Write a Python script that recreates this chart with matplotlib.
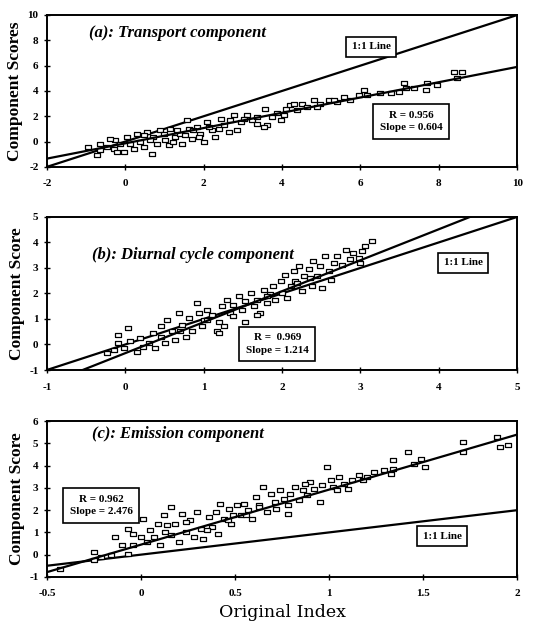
import numpy as np
import matplotlib.pyplot as plt

plt.rcParams['font.family'] = ['Liberation Serif', 'DejaVu Serif']

# (a) transport component
xa = [-0.94, -0.72, -0.64, -0.47, -0.30, -0.26, -0.21, -0.04, 0.04, 0.13, 0.21, 0.30, 0.38, 0.47,
      0.55, 0.68, 0.72, 0.81, 0.89, 1.02, 1.11, 1.15, 1.28, 1.40, 1.45, 1.57, 1.62, 1.70, 1.83, 1.91,
      2.00, 2.09, 2.21, 2.30, 2.43, 2.51, 2.64, 2.77, 2.85, 2.94, 3.11, 3.23, 3.36, 3.57, 3.62, 3.74,
      3.87, 3.96, 4.09, 4.21, 4.38, 4.51, 4.64, 4.81, 4.98, 5.19, 5.40, 5.57, 5.74, 5.96, 6.09, 6.17,
      6.51, 6.77, 6.98, 7.11, 7.15, 7.36, 7.66, 7.70, 7.96, 8.47, 8.60, 8.38,
      -0.64, -0.38, -0.13, 0.47, 0.64, 0.98, 1.23, 1.32, 1.53, 1.74, 1.87, 2.13, 2.38, 2.68, 3.02,
      3.36, 3.53, 4.04, 4.30, 4.89, 5.32]
ya = [-0.42, -1.08, -0.16, -0.42, -0.55, 0.10, -0.82, -0.82, 0.37, -0.16, -0.55, 0.63, -0.03, -0.42,
      0.77, -0.95, 0.37, -0.16, 0.90, 0.10, -0.30, 1.03, 0.37, 0.63, -0.16, 1.69, 1.03, 0.24, 1.16, 0.63,
      -0.03, 1.56, 0.90, 0.37, 1.82, 1.29, 0.77, 2.08, 0.90, 1.56, 2.08, 1.69, 1.95, 2.61, 1.29, 1.95,
      2.22, 1.69, 2.61, 2.88, 2.48, 3.00, 2.74, 3.27, 3.00, 3.27, 3.14, 3.54, 3.27, 3.67, 4.06, 3.67,
      3.80, 3.80, 3.93, 4.59, 4.20, 4.20, 4.06, 4.59, 4.46, 4.99, 5.51, 5.51,
      -0.69, 0.24, -0.16, 0.50, 0.10, 0.63, -0.03, 0.90, 0.50, 0.90, 0.37, 1.16, 1.03, 1.69, 1.82,
      1.42, 1.16, 2.08, 3.00, 2.74, 3.27]

# (b) diurnal cycle component
xb = [-0.09, 0.04, -0.09, -0.23, -0.15, -0.02, 0.06, 0.15, 0.19, 0.23, 0.30, 0.36, 0.38, 0.45, 0.45,
      0.51, 0.53, 0.60, 0.64, 0.68, 0.72, 0.77, 0.81, 0.85, 0.91, 0.94, 0.98, 1.00, 1.04, 1.11, 1.17,
      1.19, 1.23, 1.26, 1.30, 1.34, 1.38, 1.45, 1.49, 1.53, 1.53, 1.60, 1.64, 1.68, 1.72, 1.77, 1.81,
      1.85, 1.89, 1.91, 1.98, 2.00, 2.04, 2.06, 2.11, 2.15, 2.17, 2.21, 2.26, 2.28, 2.34, 2.38, 2.40,
      2.45, 2.49, 2.51, 2.55, 2.60, 2.62, 2.66, 2.70, 2.77, 2.81, 2.87, 2.91, 2.98, 3.02, 3.06, 3.15,
      3.00, 2.19, 1.81, 1.38, 1.19, 1.04, 0.70, 1.68, 2.36]
yb = [0.38, 0.64, 0.05, -0.34, -0.21, -0.14, 0.12, -0.28, 0.25, -0.08, 0.05, 0.45, -0.14, 0.71, 0.31,
      0.05, 0.97, 0.51, 0.18, 1.23, 0.77, 0.31, 1.04, 0.51, 1.63, 1.23, 0.71, 0.97, 1.36, 1.17, 0.51,
      0.90, 1.49, 0.71, 1.76, 1.23, 1.56, 1.89, 1.36, 1.69, 0.90, 2.02, 1.49, 1.76, 1.23, 2.15, 1.63,
      1.96, 2.28, 1.76, 2.48, 2.02, 2.74, 1.82, 2.28, 2.88, 2.48, 3.07, 2.08, 2.67, 2.94, 2.28, 3.26,
      2.67, 3.07, 2.21, 3.46, 2.88, 2.54, 3.20, 3.46, 3.13, 3.72, 3.33, 3.59, 3.39, 3.66, 3.85, 4.05,
      3.20, 2.41, 1.89, 1.10, 0.45, 0.97, 0.51, 1.17, 2.61]

# (c) emission component
xc = [-0.43, -0.25, -0.25, -0.21, -0.16, -0.14, -0.10, -0.07, -0.07, -0.04, -0.04, 0.00, 0.01, 0.03,
      0.05, 0.07, 0.09, 0.10, 0.12, 0.13, 0.16, 0.16, 0.18, 0.20, 0.22, 0.24, 0.26, 0.28, 0.30, 0.32,
      0.33, 0.36, 0.38, 0.40, 0.41, 0.42, 0.44, 0.47, 0.48, 0.51, 0.53, 0.55, 0.57, 0.59, 0.61, 0.63,
      0.65, 0.67, 0.69, 0.71, 0.72, 0.74, 0.76, 0.78, 0.79, 0.82, 0.84, 0.86, 0.88, 0.90, 0.92, 0.95,
      0.96, 0.99, 1.01, 1.02, 1.05, 1.08, 1.10, 1.12, 1.16, 1.18, 1.20, 1.24, 1.29, 1.33, 1.34, 1.34,
      1.42, 1.45, 1.49, 1.51, 1.71, 1.71, 1.89, 1.91, 1.95,
      0.14, 0.24, 0.35, 0.46, 0.49, 0.56, 0.63, 0.78, 0.87, 1.04]
yc = [-0.63, 0.12, -0.25, -0.10, -0.03, 0.79, 0.42, 1.17, 0.04, 0.94, 0.42, 0.79, 1.62, 0.57,
      1.09, 0.79, 1.39, 0.42, 1.77, 1.02, 0.87, 2.14, 1.39, 0.57, 1.84, 1.02, 1.54, 0.79, 1.92, 1.17,
      0.72, 1.69, 1.24, 1.92, 0.94, 2.29, 1.62, 2.07, 1.39, 2.22, 1.77, 2.29, 1.99, 1.62, 2.59, 2.22,
      3.04, 1.92, 2.74, 2.37, 2.07, 2.89, 2.52, 2.22, 2.74, 3.04, 2.44, 2.89, 2.67, 3.27, 2.97, 2.37,
      3.12, 3.94, 3.34, 3.04, 3.49, 3.19, 2.97, 3.34, 3.57, 3.34, 3.49, 3.72, 3.79, 3.64, 3.87, 4.24,
      4.62, 4.09, 4.32, 3.94, 5.07, 4.62, 5.29, 4.84, 4.92,
      1.32, 1.47, 1.09, 1.54, 1.77, 1.77, 2.14, 1.84, 3.19, 2.89]

panels = [
    dict(x=xa, y=ya, lim=(-2, 10), ticks=np.arange(-2, 11, 2), slope=0.604, icpt=-0.14,
         title='(a): Transport component', ylabel='Component Scores', r='0.956',
         title_pos=(0.09, 0.88), one_pos=(0.69, 0.79), r_pos=(0.775, 0.30)),
    dict(x=xb, y=yb, lim=(-1, 5), ticks=np.arange(-1, 6, 1), slope=1.214, icpt=-0.34,
         title='(b): Diurnal cycle component', ylabel='Component Score', r=' 0.969',
         title_pos=(0.095, 0.75), one_pos=(0.885, 0.70), r_pos=(0.49, 0.17)),
    dict(x=xc, y=yc, lim=(-0.5, 2), ticks=[-0.5, 0, 0.5, 1, 1.5, 2], slope=2.476, icpt=0.45,
         title='(c): Emission component', ylabel='Component Score', r='0.962',
         title_pos=(0.095, 0.92), one_pos=(0.84, 0.26), r_pos=(0.115, 0.46)),
]
ylims = [(-2, 10), (-1, 5), (-1, 6)]
yticks = [np.arange(-2, 11, 2), np.arange(-1, 6, 1), np.arange(-1, 7, 1)]
rects = [[0.084, 0.733, 0.843, 0.243], [0.084, 0.408, 0.843, 0.245], [0.084, 0.077, 0.843, 0.249]]

box_marker = [(-1.3, -0.7), (1.3, -0.7), (1.3, 0.7), (-1.3, 0.7), (-1.3, -0.7)]

fig = plt.figure(figsize=(5.58, 6.25), dpi=100)

for p, yl, yt, rect in zip(panels, ylims, yticks, rects):
    ax = fig.add_axes(rect)
    ax.scatter(p['x'], p['y'], marker=box_marker, s=24, facecolors='white',
               edgecolors='black', linewidths=0.9, zorder=3)

    xx = np.array(p['lim'])
    # 1:1 line and least-squares fit
    ax.plot(xx, xx, color='black', lw=1.6, zorder=2)
    ax.plot(xx, p['slope'] * xx + p['icpt'], color='black', lw=1.6, zorder=4)

    ax.set_xlim(p['lim'])
    ax.set_ylim(yl)
    ax.set_xticks(p['ticks'])
    ax.set_yticks(yt)
    ax.set_xticklabels(['%g' % t for t in p['ticks']], fontweight='bold', fontsize=8)
    ax.set_yticklabels(['%g' % t for t in yt], fontweight='bold', fontsize=8)
    ax.tick_params(direction='inout', length=4, width=1)
    ax.tick_params(axis='x', pad=7)
    ax.tick_params(axis='y', pad=4)
    for s in ax.spines.values():
        s.set_linewidth(1.4)

    ax.set_ylabel(p['ylabel'], fontweight='bold', fontsize=12.5, labelpad=3)
    ax.text(p['title_pos'][0], p['title_pos'][1], p['title'], transform=ax.transAxes,
            fontsize=12, fontstyle='italic', fontweight='bold', va='center', ha='left')
    ax.text(p['one_pos'][0], p['one_pos'][1], '1:1 Line', transform=ax.transAxes,
            fontsize=8, fontweight='bold', ha='center', va='center', zorder=6,
            bbox=dict(boxstyle='square,pad=0.5', fc='white', ec='black', lw=1.2))
    ax.text(p['r_pos'][0], p['r_pos'][1], 'R = %s\nSlope = %.3f' % (p['r'], p['slope']),
            transform=ax.transAxes, fontsize=8, fontweight='bold', ha='center', va='center',
            linespacing=1.5, zorder=6,
            bbox=dict(boxstyle='square,pad=0.6', fc='white', ec='black', lw=1.2))

    if p is panels[-1]:
        ax.set_xlabel('Original Index', fontsize=12.5, family='DejaVu Serif', labelpad=4)

fig.savefig('out.png', dpi=100)
